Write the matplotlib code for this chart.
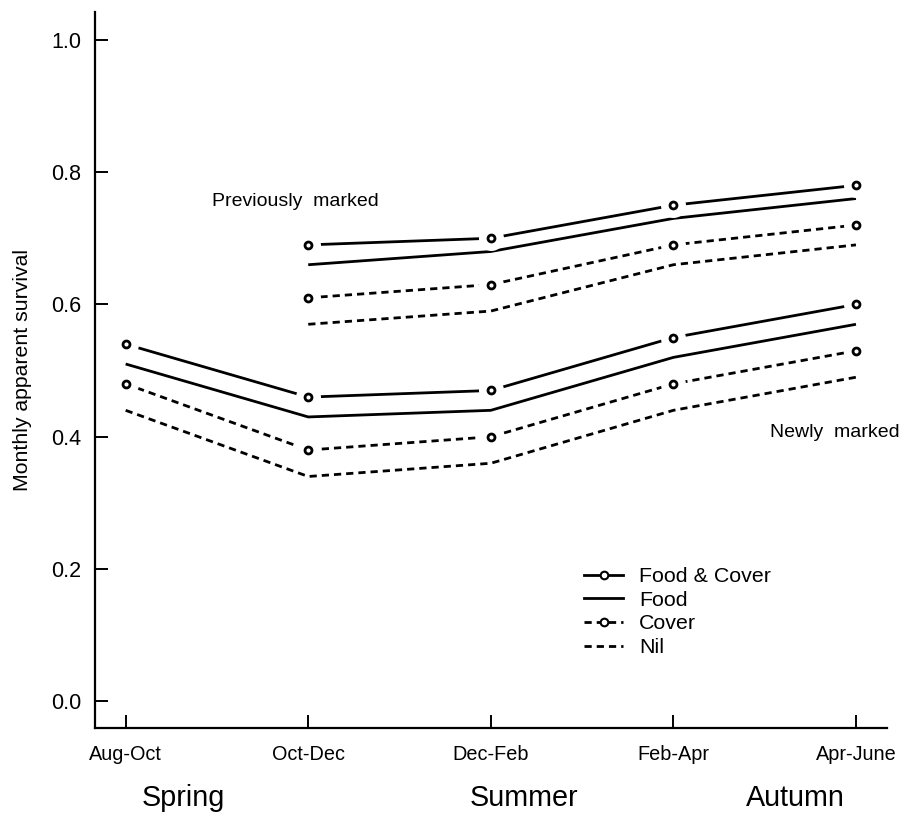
import matplotlib

matplotlib.use("Agg")
import matplotlib.pyplot as plt
import numpy as np
from matplotlib.lines import Line2D

plt.rcParams["font.family"] = ["Liberation Sans", "DejaVu Sans"]

periods = ["Aug-Oct", "Oct-Dec", "Dec-Feb", "Feb-Apr", "Apr-June"]
seasons = ["Spring", "Summer", "Autumn"]
treatments = ["Food & Cover", "Food", "Cover", "Nil"]

# previously marked animals (no estimate for Aug-Oct)
prev_food_cover = [np.nan, 0.69, 0.70, 0.75, 0.78]
prev_food = [np.nan, 0.66, 0.68, 0.73, 0.76]
prev_cover = [np.nan, 0.61, 0.63, 0.69, 0.72]
prev_nil = [np.nan, 0.57, 0.59, 0.66, 0.69]

# newly marked animals
new_food_cover = [0.54, 0.46, 0.47, 0.55, 0.60]
new_food = [0.51, 0.43, 0.44, 0.52, 0.57]
new_cover = [0.48, 0.38, 0.40, 0.48, 0.53]
new_nil = [0.44, 0.34, 0.36, 0.44, 0.49]

DASH = (0, (2.6, 1.8))
styles = {
    "Food & Cover": dict(ls="-", marker=True),
    "Food": dict(ls="-", marker=False),
    "Cover": dict(ls=DASH, marker=True),
    "Nil": dict(ls=DASH, marker=False),
}

fig = plt.figure(figsize=(9.15, 8.13), dpi=100)
ax = fig.add_axes([0.1038, 0.1046, 0.8656, 0.8807])

x = np.arange(len(periods))
series = [
    ("Food & Cover", prev_food_cover), ("Food", prev_food),
    ("Cover", prev_cover), ("Nil", prev_nil),
    ("Food & Cover", new_food_cover), ("Food", new_food),
    ("Cover", new_cover), ("Nil", new_nil),
]
for name, vals in series:
    st = styles[name]
    ax.plot(x, vals, color="black", lw=2.0, ls=st["ls"], zorder=2,
            solid_capstyle="butt", dash_capstyle="butt")
    if st["marker"]:
        # white halo so the line stops short of the circle
        ax.plot(x, vals, ls="none", marker="o", ms=18, mfc="white",
                mec="white", mew=0, zorder=3)
        ax.plot(x, vals, ls="none", marker="o", ms=5, mfc="white",
                mec="black", mew=2.0, zorder=4)

ax.set_xlim(-0.168, 4.17)
ax.set_ylim(-0.040, 1.042)
ax.set_xticks(x)
ax.set_xticklabels(periods, fontsize=14.3)
ax.set_yticks([0.0, 0.2, 0.4, 0.6, 0.8, 1.0])
ax.set_yticklabels(["0.0", "0.2", "0.4", "0.6", "0.8", "1.0"], fontsize=15.5)
ax.tick_params(direction="in", length=9.5, width=1.4, color="black")
ax.tick_params(axis="x", pad=12)
ax.tick_params(axis="y", pad=10)
for side in ["top", "right"]:
    ax.spines[side].set_visible(False)
for side in ["left", "bottom"]:
    ax.spines[side].set_linewidth(1.6)

fig.text(23 / 915, 1 - 370 / 813, "Monthly apparent survival", fontsize=15.3,
         rotation=90, ha="center", va="center")

ax.text(0.473, 0.755, "Previously  marked", fontsize=14, va="center")
ax.text(3.53, 0.407, "Newly  marked", fontsize=14, va="center", clip_on=False)

handles = []
for name in treatments:
    st = styles[name]
    if st["marker"]:
        h = Line2D([], [], color="black", lw=2.0, ls=st["ls"], marker="o",
                   ms=5.5, mfc="white", mec="black", mew=1.5)
    else:
        h = Line2D([], [], color="black", lw=2.0, ls=st["ls"])
    handles.append(h)
fig.legend(handles, treatments, loc="upper left",
           bbox_to_anchor=(584 / 915, 1 - 567 / 813), frameon=False,
           fontsize=15.4, handlelength=1.83, handletextpad=0.74,
           labelspacing=0.22, borderpad=0, borderaxespad=0)

season_x = [183, 524, 795]
for sx, s in zip(season_x, seasons):
    fig.text(sx / 915, 1 - 798 / 813, s, fontsize=20.7, ha="center", va="center")

fig.savefig("out.png", dpi=100)
